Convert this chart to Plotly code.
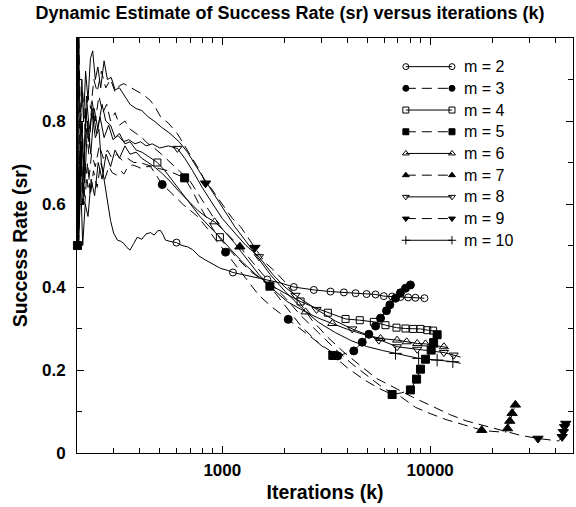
import math
import plotly.graph_objects as go

# ---------------- data ----------------
# m = 2
K2 = [200,203,206,210,214,220,228,236,245,255,262,270,280,290,300,313,325,336,348,360,375,390,410,430,452,470,490,505,520,533,560,640,679,720,771,830,900,980,1060,1250,1400,1900]
SR2 = [1.0,0.5,0.67,0.75,0.6,0.83,0.75,0.82,0.76,0.78,0.70,0.66,0.61,0.56,0.53,0.513,0.51,0.505,0.495,0.489,0.505,0.52,0.515,0.528,0.531,0.525,0.536,0.536,0.525,0.513,0.51,0.50,0.497,0.49,0.475,0.465,0.455,0.445,0.44,0.43,0.425,0.41]
MK2 = [602,1125,1645,2208,2756,3315,3845,4377,4944,5460,5985,6562,7195,7834,8492,9380]
MS2 = [0.507,0.435,0.418,0.400,0.393,0.389,0.387,0.385,0.383,0.382,0.378,0.377,0.376,0.375,0.374,0.373]

# m = 3
K3 = [200,203,207,212,218,225,232,240,250,260,272,285,296,310,325,336,350,370,390,410,430,452,480,505,560,600,650,700,760,850,940,1150,1300,1500,1750,2500,3000]
SR3 = [0.5,1.0,0.67,0.8,0.6,0.7,0.62,0.68,0.64,0.7,0.66,0.69,0.675,0.67,0.68,0.672,0.688,0.694,0.69,0.685,0.69,0.69,0.67,0.652,0.63,0.615,0.598,0.585,0.57,0.54,0.51,0.455,0.42,0.38,0.35,0.29,0.26]
MK3 = [514,1037,2076,3595,4291,4710,5070,5460,5770,6165,6398,6810,7195,7605,8035]
MS3 = [0.647,0.484,0.322,0.234,0.246,0.267,0.286,0.306,0.325,0.343,0.357,0.373,0.386,0.397,0.405]

# m = 4
K4 = [200,203,207,212,218,225,233,242,252,264,275,290,305,320,340,360,385,410,440,530,580,640,700,780,870,1100,1250,1450,1700,2000,2800,10900]
SR4 = [1.0,0.5,0.6,0.75,0.65,0.8,0.72,0.83,0.78,0.84,0.8,0.79,0.76,0.77,0.745,0.75,0.73,0.725,0.715,0.68,0.655,0.625,0.6,0.57,0.545,0.49,0.46,0.43,0.405,0.385,0.35,0.293]
MK4 = [487,974,2380,3220,3917,4585,5355,6095,6885,7605,8280,8980,9680,10330]
MS4 = [0.70,0.52,0.365,0.338,0.323,0.320,0.316,0.308,0.302,0.300,0.299,0.299,0.296,0.295]

# m = 5
K5 = [200,201,204,208,213,219,226,235,245,256,268,280,295,310,330,350,375,400,430,460,500,550,600,720,800,900,1000,1150,1350,2000,2400,2900,4000,4800,5600,7300]
SR5 = [1.0,0.5,0.67,0.75,0.6,0.7,0.64,0.72,0.69,0.74,0.71,0.73,0.71,0.72,0.705,0.71,0.70,0.70,0.695,0.69,0.685,0.68,0.672,0.63,0.585,0.54,0.51,0.475,0.44,0.355,0.305,0.265,0.205,0.177,0.157,0.145]
MK5 = [200,201,659,1694,3400,6560,8035,8600,8980,9490,10110,10390,10800]
MS5 = [1.0,0.5,0.663,0.402,0.235,0.141,0.152,0.178,0.202,0.226,0.248,0.266,0.285]

# m = 6
K6 = [200,204,208,213,219,226,234,243,253,264,276,290,305,320,340,360,385,410,440,470,510,560,620,690,760,830,1000,1150,1300,1500,1750,2050,2900,4000,4700,12100]
SR6 = [0.5,1.0,0.67,0.5,0.6,0.57,0.66,0.62,0.7,0.66,0.72,0.69,0.73,0.71,0.74,0.72,0.725,0.71,0.70,0.69,0.675,0.655,0.63,0.605,0.585,0.57,0.54,0.505,0.47,0.43,0.395,0.365,0.325,0.298,0.287,0.254]
MK6 = [918,2515,3380,5770,6930,7710,8660,9490,10390,11640]
MS6 = [0.557,0.340,0.312,0.276,0.272,0.268,0.264,0.263,0.260,0.256]

# m = 7
K7 = [200,204,209,214,220,228,236,245,255,266,278,290,305,320,340,360,385,410,440,470,510,560,620,700,800,900,1000,1450,1700,2000,2400,2900,3500,4200,5000,6000,7200,8500,10000,12000,14500,20000,23000]
SR7 = [1.0,0.5,0.75,0.6,0.8,0.72,0.85,0.8,0.86,0.82,0.84,0.8,0.82,0.79,0.8,0.78,0.77,0.76,0.745,0.735,0.72,0.70,0.68,0.655,0.61,0.57,0.54,0.45,0.41,0.375,0.33,0.29,0.25,0.215,0.185,0.155,0.136,0.11,0.095,0.08,0.068,0.052,0.05]
MK7 = [1215,17700,23550,24150,24780,25700]
MS7 = [0.497,0.055,0.059,0.077,0.096,0.116]

# m = 8
K8 = [200,203,207,211,216,222,229,238,248,258,270,284,298,315,335,355,380,405,430,460,500,550,660,720,800,900,1000,1150,1300,1750,2000,3500,5000,10200,14000]
SR8 = [1.0,0.5,0.67,0.8,0.67,0.86,0.78,0.83,0.77,0.81,0.76,0.79,0.755,0.765,0.75,0.755,0.745,0.75,0.74,0.745,0.735,0.74,0.71,0.68,0.64,0.6,0.565,0.53,0.5,0.43,0.4,0.318,0.284,0.245,0.231]
MK8 = [608,1500,2250,2840,4217,5660,6930,8660,11640,12970]
MS8 = [0.734,0.473,0.380,0.346,0.299,0.272,0.256,0.250,0.242,0.236]

# m = 9
K9 = [200,204,208,213,219,226,233,241,250,262,275,290,305,320,336,350,360,380,400,418,450,480,505,550,607,660,730,790,878,950,1018,1120,1225,1350,1600,1770,1977,2300,2700,3200,3800,4500,5500,6700,8200,10000,12500,15000,18000,22000,27000,38000,41500]
SR9 = [0.5,1.0,0.8,0.87,0.78,0.86,0.83,0.9,0.87,0.92,0.88,0.9,0.87,0.885,0.89,0.885,0.883,0.875,0.87,0.863,0.85,0.83,0.81,0.795,0.77,0.74,0.706,0.675,0.64,0.615,0.593,0.565,0.545,0.515,0.46,0.44,0.415,0.37,0.32,0.28,0.245,0.215,0.18,0.158,0.135,0.115,0.092,0.077,0.066,0.054,0.043,0.031,0.029]
MK9 = [831,1435,33000,43150,43700,44300,44900]
MS9 = [0.65,0.495,0.035,0.039,0.051,0.063,0.071]

# m = 10
K10 = [200,203,207,211,215,220,226,232,238,245,252,260,270,280,292,305,320,340,360,385,410,440,470,510,560,620,680,750,830,920,1020,1150,1300,1480,1700,2000,2400,2900,3500,4200,5000,5900,7800,9800,11800,14000]
SR10 = [1.0,0.5,0.75,0.9,0.8,0.92,0.85,0.95,0.969,0.9,0.93,0.88,0.945,0.9,0.905,0.875,0.88,0.86,0.84,0.83,0.825,0.81,0.8,0.785,0.77,0.75,0.725,0.69,0.655,0.62,0.585,0.545,0.51,0.47,0.43,0.39,0.35,0.315,0.29,0.27,0.256,0.247,0.233,0.226,0.222,0.216]
MK10 = [6810,8800,10800,12850]
MS10 = [0.240,0.228,0.224,0.220]

LABELS = ["m = 2", "m = 3", "m = 4", "m = 5", "m = 6", "m = 7", "m = 8", "m = 9", "m = 10"]

X_TICKS = [1000, 10000]
X_TICK_TEXT = ["1000", "10000"]
X_MINOR = [300, 400, 500, 600, 700, 800, 900, 2000, 3000, 4000, 5000, 6000, 7000, 8000, 9000, 20000, 30000, 40000]
Y_TICKS = [0, 0.2, 0.4, 0.6, 0.8]
Y_TICK_TEXT = ["0", "0.2", "0.4", "0.6", "0.8"]
Y_MINOR = [0.1, 0.3, 0.5, 0.7, 0.9]

# ---------------- styling ----------------
SERIES = [(K2, SR2, MK2, MS2), (K3, SR3, MK3, MS3), (K4, SR4, MK4, MS4),
          (K5, SR5, MK5, MS5), (K6, SR6, MK6, MS6), (K7, SR7, MK7, MS7),
          (K8, SR8, MK8, MS8), (K9, SR9, MK9, MS9), (K10, SR10, MK10, MS10)]
SYMBOLS = ["circle-open", "circle", "square-open", "square", "triangle-up-open",
           "triangle-up", "triangle-down-open", "triangle-down", "cross-thin-open"]
DASHES = ["solid", "10px,6px"] * 4 + ["solid"]
MSIZE = [7, 8, 7, 8, 8, 9, 8, 9, 9]

FONT = "Liberation Sans, Arial, sans-serif"
W, H = 576, 507

fig = go.Figure()

for (k, sr, mk, ms), sym, dash, msz in zip(SERIES, SYMBOLS, DASHES, MSIZE):
    assert len(k) == len(sr) and len(mk) == len(ms)
    pts = dict(zip(k, sr))
    pts.update(dict(zip(mk, ms)))
    xs = sorted(pts)
    ys = [pts[x] for x in xs]
    fig.add_trace(go.Scatter(x=xs, y=ys, mode="lines",
                             line=dict(color="black", width=1, dash=dash),
                             hoverinfo="skip", showlegend=False))
    fig.add_trace(go.Scatter(x=mk, y=ms, mode="markers", cliponaxis=False,
                             marker=dict(symbol=sym, size=msz, color="black",
                                         line=dict(color="black", width=1)),
                             showlegend=False))

# ---------------- custom legend (line with a marker at both ends) ----------------
LEG_X0, LEG_X1, LEG_TX = 0.663, 0.756, 0.776
LEG_Y0, LEG_DY = 0.931, 0.0523
for i, (lab, sym, dash) in enumerate(zip(LABELS, SYMBOLS, DASHES)):
    yy = LEG_Y0 - LEG_DY * i
    fig.add_trace(go.Scatter(x=[LEG_X0, LEG_X1], y=[yy, yy], xaxis="x2", yaxis="y2",
                             mode="lines+markers", cliponaxis=False,
                             line=dict(color="black", width=1, dash=dash),
                             marker=dict(symbol=sym, size=6, color="black",
                                         line=dict(color="black", width=1)),
                             showlegend=False, hoverinfo="skip"))
    fig.add_annotation(x=LEG_TX, y=yy, xref="x2", yref="y2", text=lab,
                       showarrow=False, xanchor="left", yanchor="middle",
                       font=dict(family=FONT, size=16, color="black"))

axis_common = dict(ticks="inside", tickwidth=1, tickcolor="black", showline=True,
                   linecolor="black", linewidth=1, mirror="ticks", showgrid=False,
                   zeroline=False, automargin=False,
                   tickfont=dict(family=FONT, size=17, color="black", weight="bold"))

fig.update_layout(
    width=W, height=H,
    margin=dict(l=77, r=3, t=38, b=54),
    plot_bgcolor="white", paper_bgcolor="white",
    showlegend=False,
    title=dict(text="Dynamic Estimate of Success Rate (sr) versus iterations (k)",
               x=290 / W, xanchor="center", y=1 - 12.5 / H, yanchor="middle",
               font=dict(family=FONT, size=18, color="black", weight="bold")),
    xaxis=dict(type="log", range=[math.log10(200), 4.687],
               tickvals=X_TICKS, ticktext=X_TICK_TEXT, ticklen=7, ticklabelstandoff=2,
               minor=dict(tickvals=X_MINOR, ticks="inside", ticklen=5,
                          tickcolor="black", tickwidth=1, showgrid=False),
               title=dict(text="Iterations (k)", standoff=5,
                          font=dict(family=FONT, size=19.5, color="black", weight="bold")),
               **axis_common),
    yaxis=dict(range=[0, 1.0], tickvals=Y_TICKS, ticktext=Y_TICK_TEXT, ticklen=7, ticklabelstandoff=7,
               minor=dict(tickvals=Y_MINOR, ticks="inside", ticklen=5,
                          tickcolor="black", tickwidth=1, showgrid=False),
               title=dict(text="Success Rate (sr)", standoff=9,
                          font=dict(family=FONT, size=19.5, color="black", weight="bold")),
               **axis_common),
    xaxis2=dict(overlaying="x", range=[0, 1], visible=False, fixedrange=True, automargin=False),
    yaxis2=dict(overlaying="y", range=[0, 1], visible=False, fixedrange=True, automargin=False),
)

# remove the browser's default 8px page margin so the figure fills the window exactly
fig.write_html("out.html", config={"displayModeBar": False},
               post_script="document.body.style.margin='0';")
